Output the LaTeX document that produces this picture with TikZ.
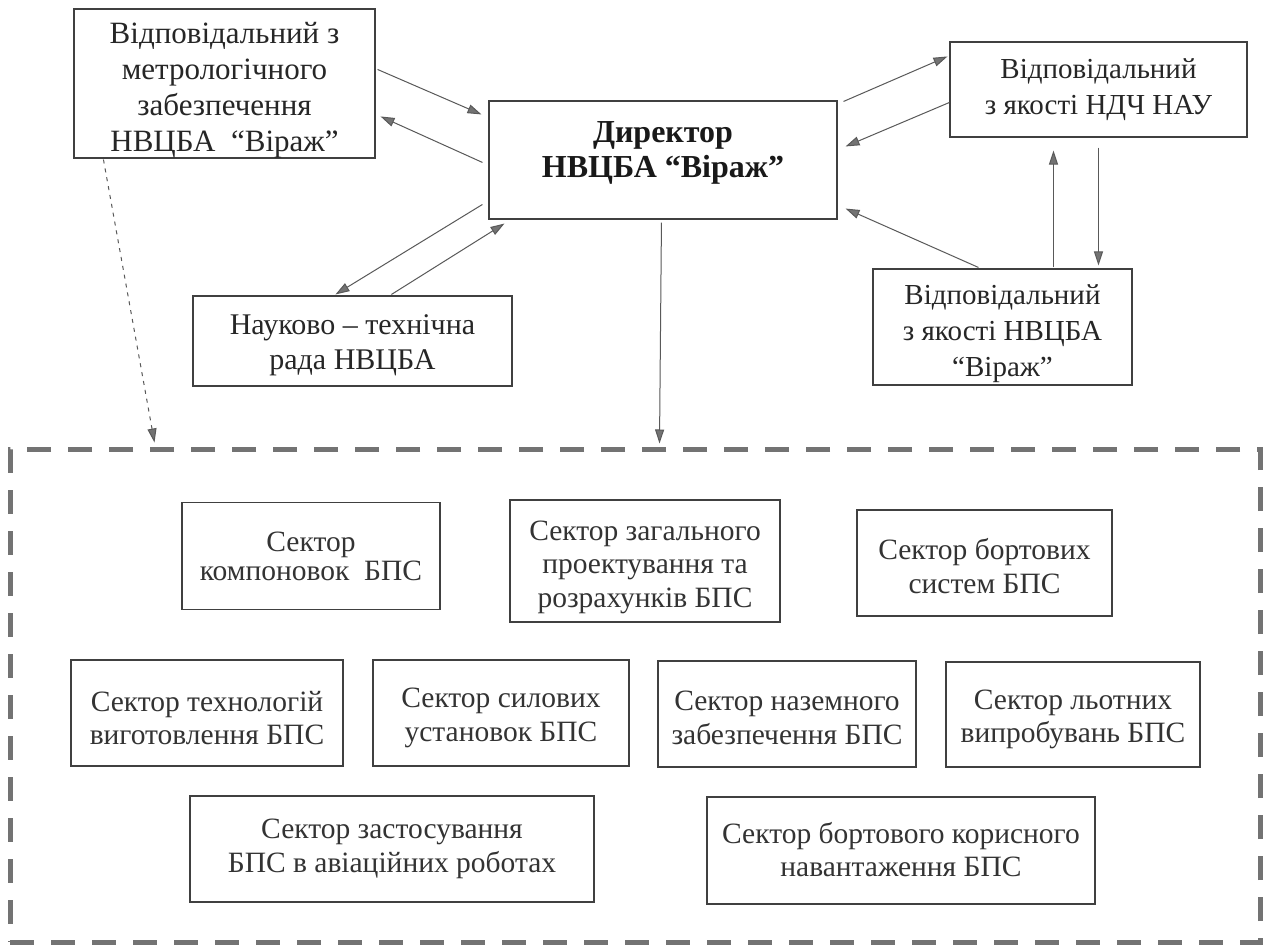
\documentclass[tikz,border=0pt]{standalone}
\usepackage{fontspec}
\setmainfont{Liberation Serif}
\usetikzlibrary{arrows.meta,calc}
\begin{document}
\begin{tikzpicture}[x=1pt,y=-1pt,
  box/.style={draw=black!75, line width=1.1pt, inner sep=0pt},
  txt/.style={inner sep=0pt, align=center, text=black!85, font=\fontsize{29}{36}\selectfont},
  stxt/.style={txt, text=black!80, font=\fontsize{29.5}{33.5}\selectfont},
  dtxt/.style={txt, text=black!90, font=\fontsize{32}{35}\selectfont\bfseries},
  conn/.style={draw=black!65, line width=1pt, -{Triangle[length=14pt,width=9pt,fill=black!55]}},
  frame/.style={draw=black!55, line width=5pt, dash pattern=on 24pt off 17pt, inner sep=0pt}
]
\useasboundingbox (0,0) rectangle (1265,947);
\fill[white] (0,0) rectangle (1265,947);

% upper boxes
\node[box, minimum width=301pt, minimum height=149pt] (A) at (224.5,83.5) {};
\node[txt, font=\fontsize{31}{36}\selectfont] (At) at ($(A.center)+(0,7)$)
  {Відповідальний з\\метрологічного\\забезпечення\\НВЦБА \ “Віраж”};
\node[box, minimum width=348pt, minimum height=118pt] (dir) at (663,160) {};
\node[dtxt] (dirt) at ($(dir.center)+(0,-7)$) {Директор\\НВЦБА “Віраж”};
\node[box, minimum width=297pt, minimum height=95pt] (ndch) at (1098.5,89.5) {};
\node[txt] (ndcht) at (ndch.center) {Відповідальний\\з якості НДЧ НАУ};
\node[box, minimum width=319pt, minimum height=90pt] (nauk) at (352.5,341) {};
\node[txt, font=\fontsize{30}{35}\selectfont] (naukt) at ($(nauk.center)+(0,4)$) {Науково – технічна\\рада НВЦБА};
\node[box, minimum width=259pt, minimum height=116pt] (nvcba) at (1002.5,327) {};
\node[txt] (nvcbat) at ($(nvcba.center)+(0,7)$) {Відповідальний\\з якості НВЦБА\\“Віраж”};

% dashed frame
\node[frame, minimum width=1250pt, minimum height=493pt] (frm) at (635,695.5) {};

% sectors
\node[box, minimum width=258pt, minimum height=107pt] (s1) at (311,556) {};
\node[stxt, font=\fontsize{29.5}{29}\selectfont] (s1t) at (s1.center) {Сектор\\компоновок \ БПС};
\node[box, minimum width=270pt, minimum height=122pt] (s2) at (645,561) {};
\node[stxt] (s2t) at ($(s2.center)+(0,6)$) {Сектор загального\\проектування та\\розрахунків БПС};
\node[box, minimum width=255pt, minimum height=106pt] (s3) at (984.5,563) {};
\node[stxt] (s3t) at ($(s3.center)+(0,3)$) {Сектор бортових\\систем БПС};
\node[box, minimum width=272pt, minimum height=106pt] (s4) at (207,713) {};
\node[stxt] (s4t) at ($(s4.center)+(0,5)$) {Сектор технологій\\виготовлення БПС};
\node[box, minimum width=256pt, minimum height=106pt] (s5) at (501,713) {};
\node[stxt] (s5t) at ($(s5.center)+(0,5)$) {Сектор силових\\установок БПС};
\node[box, minimum width=258pt, minimum height=106pt] (s6) at (787,714) {};
\node[stxt] (s6t) at ($(s6.center)+(0,4)$) {Сектор наземного\\забезпечення БПС};
\node[box, minimum width=254pt, minimum height=105pt] (s7) at (1073,714.5) {};
\node[stxt] (s7t) at ($(s7.center)+(0,5)$) {Сектор льотних\\випробувань БПС};
\node[box, minimum width=404pt, minimum height=106pt] (s8) at (392,849) {};
\node[stxt] (s8t) at (s8.center) {Сектор застосування\\БПС в авіаційних роботах};
\node[box, minimum width=388pt, minimum height=107pt] (s9) at (901,850.5) {};
\node[stxt] (s9t) at ($(s9.center)+(0,-1)$) {Сектор бортового корисного\\навантаження БПС};

% connectors
\draw[conn] ($(A.north east)+(2,61)$) -- ($(dir.north west)+(-7,14)$);
\draw[conn] ($(dir.north west)+(-6,62)$) -- ($(A.north east)+(5,108)$);
\draw[conn] ($(dir.north west)+(-6,104)$) -- ($(nauk.north west)+(143,-1)$);
\draw[conn] ($(nauk.north west)+(199,-1)$) -- ($(dir.south west)+(16,4)$);
\draw[conn] ($(dir.north east)+(6,1)$) -- ($(ndch.north west)+(-2,15)$);
\draw[conn] ($(ndch.north west)+(0,61)$) -- ($(dir.north east)+(8,46)$);
\draw[conn] ($(nvcba.north west)+(106,-1)$) -- ($(dir.south east)+(8,-11)$);
\draw[conn] ($(nvcba.north west)+(181,-1)$) -- ($(ndch.south west)+(104,13)$);
\draw[conn] ($(ndch.south west)+(149,10)$) -- ($(nvcba.north west)+(226,-3)$);
\draw[conn] ($(dir.south west)+(173,3)$) -- ($(frm.north west)+(652,-3)$);
\draw[conn, dash pattern=on 4pt off 5pt] ($(A.south west)+(30,1)$) -- ($(frm.north west)+(147,-4)$);
\end{tikzpicture}
\end{document}
